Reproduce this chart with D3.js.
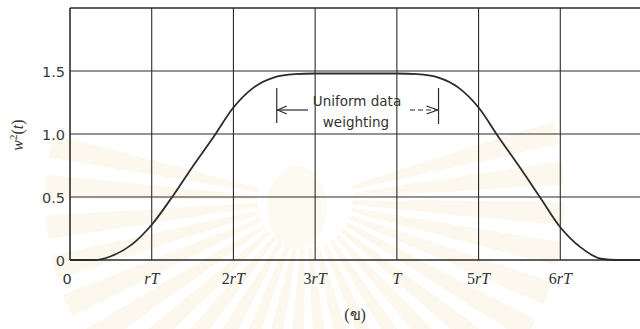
<!DOCTYPE html>
<html>
<head>
<meta charset="utf-8">
<script src="https://cdn.jsdelivr.net/npm/d3@7"></script>
<style>
  html, body { margin: 0; padding: 0; background: #fff; }
  svg { display: block; }
</style>
</head>
<body>
<svg id="chart" width="640" height="329"></svg>
<script>
// Squared taper window w^2(t): time in units of rT, with T = 4rT
const tValues = [0, 0.3, 0.5, 0.75, 1.0, 1.25, 1.5, 1.75, 2.0, 2.25, 2.5, 2.75, 3.0, 3.5, 4.0, 4.25, 4.5, 4.75, 5.0, 5.25, 5.5, 5.75, 6.0, 6.25, 6.5, 6.7, 7.0];
const wValues = [0, 0, 0.03, 0.12, 0.28, 0.5, 0.74, 0.97, 1.21, 1.37, 1.45, 1.475, 1.48, 1.48, 1.48, 1.475, 1.45, 1.37, 1.21, 0.97, 0.74, 0.5, 0.26, 0.1, 0.01, 0, 0];

// Axis ticks and labels
const xTicks = [0, 1, 2, 3, 4, 5, 6];
const xTickLabels = [["0"], ["", "r", "T"], ["2", "r", "T"], ["3", "r", "T"], ["", "", "T"], ["5", "r", "T"], ["6", "r", "T"]];
const yTicks = [0, 0.5, 1.0, 1.5];
const yTickLabels = ["0", "0.5", "1.0", "1.5"];

// Span of uniform weighting (in rT units)
const uniformSpan = [2.53, 4.51];

const svg = d3.select("#chart");
const ink = "#2b2b2b";

const x = d3.scaleLinear().domain([0, 7]).range([70, 642]);
const y = d3.scaleLinear().domain([0, 2]).range([260, 8]);

// Faint sunburst emblem behind the plot, rays fanning downward
const emblem = svg.append("g").attr("transform", "translate(305,200)").attr("opacity", 0.55);
const rayAngles = d3.range(-105, 106, 9);
const arcGen = d3.arc().innerRadius(48).outerRadius(260);
rayAngles.forEach(a => {
  emblem.append("path")
    .attr("d", arcGen({ startAngle: (180 + a - 2.6) * Math.PI / 180, endAngle: (180 + a + 2.6) * Math.PI / 180 }))
    .attr("fill", "#fcf4e0");
});
emblem.append("ellipse").attr("cx", -8).attr("cy", 8).attr("rx", 30).attr("ry", 42)
  .attr("fill", "#fcf6e6");

// Grid
const grid = svg.append("g").attr("stroke", ink).attr("stroke-width", 1.1).attr("fill", "none");
grid.selectAll("line.v").data(xTicks.slice(1)).join("line")
  .attr("x1", d => x(d)).attr("x2", d => x(d))
  .attr("y1", y(2)).attr("y2", y(0));
grid.selectAll("line.h").data([0.5, 1.0, 1.5]).join("line")
  .attr("x1", x(0)).attr("x2", 640)
  .attr("y1", d => y(d)).attr("y2", d => y(d));

// Frame: left, top and baseline
const frame = svg.append("g").attr("stroke", ink).attr("stroke-width", 1.6).attr("fill", "none");
frame.append("line").attr("x1", x(0)).attr("x2", x(0)).attr("y1", y(2)).attr("y2", y(0));
frame.append("line").attr("x1", x(0)).attr("x2", 640).attr("y1", y(2)).attr("y2", y(2));
frame.append("line").attr("x1", x(0)).attr("x2", 640).attr("y1", y(0)).attr("y2", y(0));

// Curve
const pts = tValues.map((t, i) => [t, wValues[i]]);
svg.append("path")
  .datum(pts)
  .attr("fill", "none")
  .attr("stroke", ink)
  .attr("stroke-width", 1.8)
  .attr("d", d3.line().x(d => x(d[0])).y(d => y(d[1])).curve(d3.curveMonotoneX));

// Y tick labels
svg.append("g").selectAll("text").data(yTicks).join("text")
  .attr("x", 65).attr("y", d => y(d) + 5.5)
  .attr("text-anchor", "end")
  .attr("font-family", "'DejaVu Sans', sans-serif")
  .attr("font-size", 14.5)
  .attr("fill", "#3a3a3a")
  .text((d, i) => yTickLabels[i]);

// X tick labels
const xl = svg.append("g").selectAll("text").data(xTicks).join("text")
  .attr("x", (d, i) => i === 0 ? x(d) - 3 : x(d))
  .attr("y", 284)
  .attr("text-anchor", "middle")
  .attr("font-family", "'Liberation Serif', serif")
  .attr("font-size", 16)
  .attr("fill", "#333");
xl.each(function(d, i) {
  const parts = xTickLabels[i];
  const sel = d3.select(this);
  if (i === 0) {
    sel.append("tspan").attr("font-family", "'DejaVu Sans', sans-serif").attr("font-size", 14.5).text(parts[0]);
    return;
  }
  if (parts[0]) sel.append("tspan").text(parts[0]);
  if (parts[1]) sel.append("tspan").attr("font-style", "italic").text(parts[1]);
  sel.append("tspan").attr("font-style", "italic").text(parts[2]);
});

// Y axis title w^2(t)
const yt = svg.append("text")
  .attr("transform", "translate(23,135) rotate(-90)")
  .attr("text-anchor", "middle")
  .attr("font-family", "'Liberation Serif', serif")
  .attr("font-size", 16)
  .attr("fill", "#333");
yt.append("tspan").attr("font-style", "italic").text("w");
yt.append("tspan").attr("font-size", 11).attr("dy", -6).text("2");
yt.append("tspan").attr("dy", 6).text("(");
yt.append("tspan").attr("font-style", "italic").text("t");
yt.append("tspan").text(")");

// Uniform data weighting annotation
const ann = svg.append("g").attr("stroke", ink).attr("fill", "none").attr("stroke-width", 1.2);
const xa = x(uniformSpan[0]), xb = x(uniformSpan[1]);
ann.append("line").attr("x1", xa).attr("x2", xa).attr("y1", 88).attr("y2", 123);
ann.append("line").attr("x1", xb).attr("x2", xb).attr("y1", 88).attr("y2", 124);
ann.append("line").attr("x1", xa).attr("x2", 308).attr("y1", 110).attr("y2", 110);
ann.append("path").attr("d", `M${xa + 10},106 L${xa + 1},110 L${xa + 10},114`);
ann.append("line").attr("x1", 410).attr("x2", xb).attr("y1", 110).attr("y2", 110).attr("stroke-dasharray", "5,3");
ann.append("path").attr("d", `M${xb - 12},106 L${xb - 1},110 L${xb - 12},114`);

const annText = svg.append("g")
  .attr("font-family", "'DejaVu Sans', sans-serif")
  .attr("font-size", 13.5)
  .attr("fill", "#333")
  .attr("text-anchor", "middle");
annText.append("text").attr("x", 357).attr("y", 106).text("Uniform data");
annText.append("text").attr("x", 356).attr("y", 127).text("weighting");

// Panel label
svg.append("text")
  .attr("x", 355).attr("y", 320)
  .attr("text-anchor", "middle")
  .attr("font-family", "'Liberation Serif', 'Noto Sans', 'DejaVu Sans', serif")
  .attr("font-size", 16)
  .attr("fill", "#333")
  .text("(ข)");
</script>
</body>
</html>
